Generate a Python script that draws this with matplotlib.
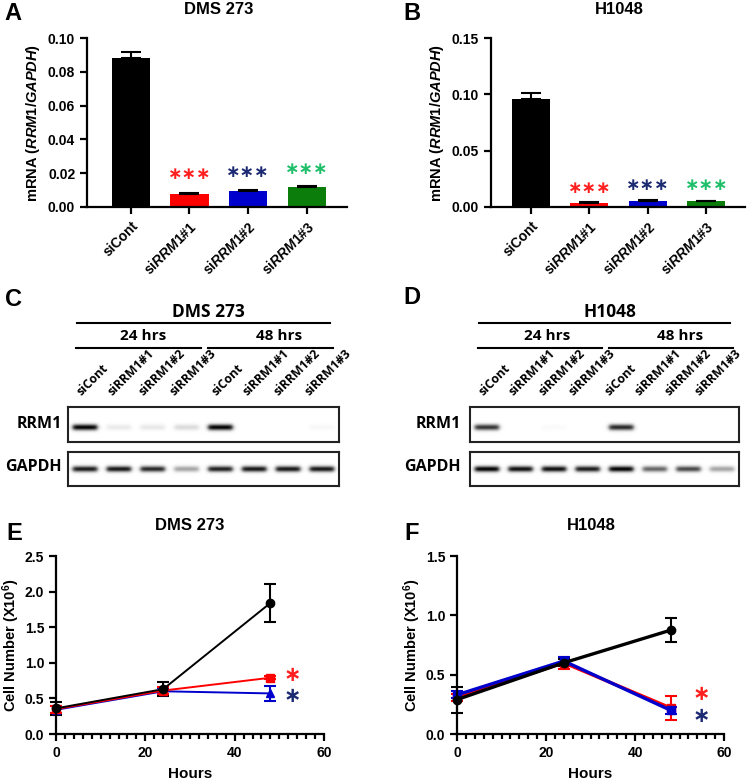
import matplotlib
matplotlib.use("Agg")
import matplotlib.pyplot as plt
import numpy as np
from matplotlib.lines import Line2D
from matplotlib.ticker import MultipleLocator

plt.rcParams['font.family'] = ['Liberation Sans', 'DejaVu Sans']
plt.rcParams['font.weight'] = 'bold'
plt.rcParams['axes.labelweight'] = 'bold'
plt.rcParams['mathtext.fontset'] = 'custom'
plt.rcParams['mathtext.it'] = 'Liberation Sans:italic:bold'
plt.rcParams['mathtext.rm'] = 'Liberation Sans:bold'
plt.rcParams['mathtext.bf'] = 'Liberation Sans:bold'

W, H = 749, 782
BLOT_FONT = 'Open Sans'

# ---- data: qPCR (A, B)
groups = ['siCont', 'si$\\mathit{RRM1}$#1', 'si$\\mathit{RRM1}$#2', 'si$\\mathit{RRM1}$#3']
bar_colors = ['#000000', '#ff0000', '#0000cc', '#0b7d0b']
star_colors = ['#ff1f1f', '#1b2a72', '#1fbf6a']
dms_mrna = [0.088, 0.0078, 0.0092, 0.0118]
dms_mrna_err = [0.004, 0.0003, 0.0010, 0.0005]
dms_star_y = [0.0195, 0.0210, 0.0222]
h_mrna = [0.096, 0.0035, 0.0050, 0.0050]
h_mrna_err = [0.005, 0.0005, 0.0008, 0.0006]
h_star_y = [0.0170, 0.0195, 0.0195]

# ---- data: western blots (C, D), band intensity 0..1
lanes = ['siCont', 'siRRM1#1', 'siRRM1#2', 'siRRM1#3'] * 2
dms_rrm1 = [1.0, 0.08, 0.09, 0.14, 1.0, 0.0, 0.0, 0.03]
dms_gapdh = [0.9, 0.92, 0.85, 0.35, 0.88, 0.92, 0.92, 0.92]
h_rrm1 = [0.8, 0.0, 0.02, 0.0, 0.85, 0.0, 0.0, 0.0]
h_gapdh = [1.0, 0.95, 0.95, 0.9, 1.0, 0.6, 0.72, 0.35]

# ---- data: growth (E, F)
hours = [0, 24, 48]
dms_cont = [0.36, 0.63, 1.84]
dms_cont_err = [0.09, 0.10, 0.27]
dms_si1 = [0.35, 0.61, 0.79]
dms_si1_err = [0.05, 0.05, 0.02]
dms_si2 = [0.34, 0.60, 0.57]
dms_si2_err = [0.05, 0.05, 0.11]
h_cont = [0.29, 0.60, 0.875]
h_cont_err = [0.11, 0.03, 0.10]
h_si1 = [0.31, 0.60, 0.22]
h_si1_err = [0.03, 0.05, 0.10]
h_si2 = [0.33, 0.615, 0.20]
h_si2_err = [0.03, 0.03, 0.03]
dms_stars = [(53, 0.83), (53, 0.53)]
h_stars = [(55, 0.34), (55, 0.15)]

fig = plt.figure(figsize=(W / 100, H / 100), dpi=100)


def px(x, y):
    return x / W, 1 - y / H


def add_ax(left, right, top, bottom):
    return fig.add_axes([left / W, 1 - bottom / H, (right - left) / W, (bottom - top) / H])


def style(ax):
    for s in ['top', 'right']:
        ax.spines[s].set_visible(False)
    for s in ['left', 'bottom']:
        ax.spines[s].set_linewidth(1.6)
    ax.tick_params(width=1.6, length=5, labelsize=10, direction='out')
    ax.tick_params(which='minor', width=1.6, length=3.5)


def bars(ax, vals, errs, star_y, ymax, step, xlim):
    x = np.arange(len(groups))
    ax.bar(x, vals, width=0.65, color=bar_colors)
    ax.errorbar(x, vals, yerr=[[0] * len(x), errs], fmt='none', ecolor='black',
                elinewidth=1.5, capsize=7, capthick=1.5)
    for i, y in enumerate(star_y):
        ax.text(x[i + 1], y, '∗∗∗', color=star_colors[i], ha='center', va='center',
                fontsize=12.5, family='DejaVu Sans', weight='bold')
    ax.set_xlim(*xlim)
    ax.set_ylim(0, ymax)
    ax.set_yticks(np.arange(0, ymax + 1e-9, step))
    ax.set_yticklabels([f'{v:.2f}' for v in np.arange(0, ymax + 1e-9, step)])
    ax.set_xticks(x)
    ax.set_xticklabels(groups, rotation=45, ha='right', rotation_mode='anchor', fontsize=10)
    ax.set_ylabel('mRNA ($\\mathit{RRM1/GAPDH}$)', fontsize=10.5)
    style(ax)


axA = add_ax(87, 347, 38, 207)
bars(axA, dms_mrna, dms_mrna_err, dms_star_y, 0.10, 0.02, (-0.75, 3.69))
axB = add_ax(491, 745, 38, 207)
bars(axB, h_mrna, h_mrna_err, h_star_y, 0.15, 0.05, (-0.68, 3.66))


def blot_box(left, right, top, bottom, levels, cy, sy=0.085):
    ax = add_ax(left, right, top, bottom)
    xs = np.linspace(0, 8, 800)
    ys = np.linspace(0, 1, 120)
    X, Y = np.meshgrid(xs, ys)
    img = np.zeros_like(X)
    for i, lv in enumerate(levels):
        fx = 1 / (1 + np.exp((np.abs(X - (i + 0.5)) - 0.36) / 0.035))
        img += lv * fx * np.exp(-((Y - cy) / sy) ** 2)
    ax.imshow(np.clip(img, 0, 1), extent=(0, 8, 0, 1), origin='lower', cmap='gray_r',
              vmin=0, vmax=1, aspect='auto', interpolation='bilinear')
    ax.set_xticks([])
    ax.set_yticks([])
    for s in ax.spines.values():
        s.set_linewidth(1.5)
        s.set_color('#222222')
    return ax


def blot_panel(box_l, box_r, title, title_x, lines, hrs_x, lane_step, group2_off,
               rrm1, gapdh, label_r):
    blot_box(box_l, box_r, 407, 442, rrm1, 0.42)
    blot_box(box_l, box_r, 452, 486, gapdh, 0.5)
    fig.text(*px(title_x, 312), title, ha='center', va='center', fontsize=12.5,
             family=BLOT_FONT, weight='bold')
    for (x1, x2, y) in lines:
        fig.add_artist(Line2D([x1 / W, x2 / W], [1 - y / H] * 2, color='black', lw=1.5))
    for hx, lab in zip(hrs_x, ['24 hrs', '48 hrs']):
        fig.text(*px(hx, 336), lab, ha='center', va='center', fontsize=11,
                 family=BLOT_FONT, weight='bold')
    for i, lab in enumerate(lanes):
        lx = box_l + 11 + lane_step * (i % 4) + group2_off * (i // 4)
        fig.text(*px(lx, 394), lab, rotation=45, rotation_mode='anchor', ha='left',
                 va='center', fontsize=8.8, family=BLOT_FONT, weight='bold')
    fig.text(*px(label_r, 424), 'RRM1', ha='right', va='center', fontsize=11.5,
             family=BLOT_FONT, weight='bold')
    fig.text(*px(label_r, 467), 'GAPDH', ha='right', va='center', fontsize=11.5,
             family=BLOT_FONT, weight='bold')


blot_panel(68, 339, 'DMS 273', 208, [(77, 330, 323), (76, 201, 348), (208, 333, 348)],
           [143, 279], 31, 135, dms_rrm1, dms_gapdh, 62)
blot_panel(470, 739, 'H1048', 610, [(479, 730, 323), (478, 602, 348), (609, 733, 348)],
           [547, 680], 30, 126, h_rrm1, h_gapdh, 461)


def growth(ax, series, stars, ymax, lw):
    for y, e, c, m in series:
        ax.errorbar(hours, y, yerr=e, color=c, marker=m, markersize=6, lw=lw,
                    elinewidth=1.5, capsize=4, capthick=1.5, clip_on=False)
    for (sx, sy), c in zip(stars, ['#ff1f1f', '#1b2a72']):
        ax.text(sx, sy, '∗', color=c, ha='center', va='center', fontsize=15,
                family='DejaVu Sans', weight='bold')
    ax.set_xlim(0, 60)
    ax.set_ylim(0, ymax)
    ax.xaxis.set_major_locator(MultipleLocator(20))
    ax.xaxis.set_minor_locator(MultipleLocator(2))
    ax.yaxis.set_major_locator(MultipleLocator(0.5))
    ax.set_xlabel('Hours', fontsize=11, labelpad=5)
    ax.set_ylabel('Cell Number (X10$^{\\mathrm{6}}$)', fontsize=10.5, labelpad=2)
    style(ax)


axE = add_ax(56, 324, 556, 734)
growth(axE, [(dms_si2, dms_si2_err, '#0000cc', '^'), (dms_si1, dms_si1_err, '#ff0000', 's'),
             (dms_cont, dms_cont_err, '#000000', 'o')], dms_stars, 2.5, 1.4)
axF = add_ax(457, 724, 556, 734)
growth(axF, [(h_si1, h_si1_err, '#ff0000', 's'), (h_si2, h_si2_err, '#0000cc', 's'),
             (h_cont, h_cont_err, '#000000', 'o')], h_stars, 1.5, 2.4)

# titles and panel letters
for x, y, t in [(219, 10, 'DMS 273'), (619, 10, 'H1048'), (190, 526, 'DMS 273'), (591, 526, 'H1048')]:
    fig.text(*px(x, y), t, ha='center', va='center', fontsize=12, weight='bold')
for x, y, t in [(13, 13, 'A'), (412, 13, 'B'), (13, 300, 'C'), (412, 298, 'D'), (14, 533, 'E'), (412, 533, 'F')]:
    fig.text(*px(x, y), t, ha='center', va='center', fontsize=17, weight='bold')

fig.savefig('out.png', dpi=100)
